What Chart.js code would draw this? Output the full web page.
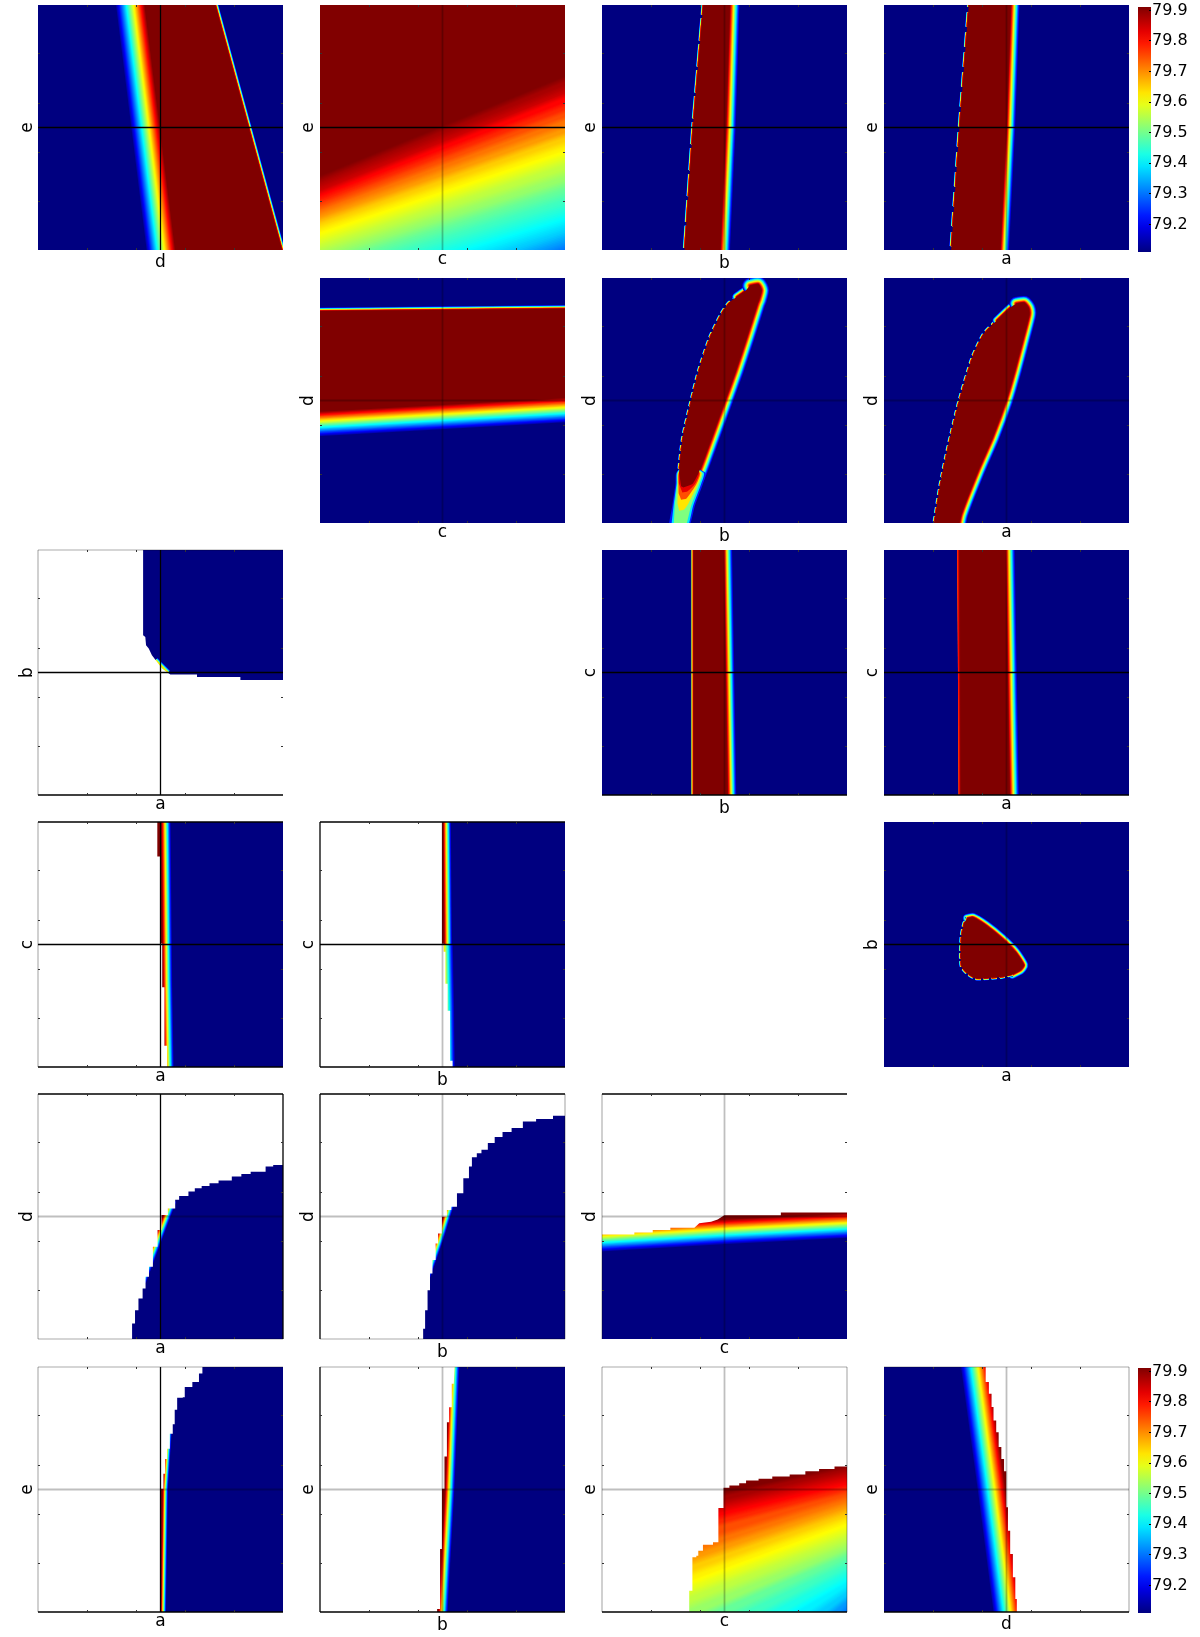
<!DOCTYPE html>
<html>
<head>
<meta charset="utf-8">
<title>Pairwise heat maps</title>
<script src="https://cdn.jsdelivr.net/npm/chart.js@4"></script>
<style>
  html, body { margin: 0; background: #fff; }
  #page { position: relative; width: 1200px; height: 1637px; overflow: hidden; }
  canvas { position: absolute; }
</style>
</head>
<body>
<div id="page"></div>
<script>
// colour bar
const cb_min = 79.11;
const cb_max = 79.911;
const cb_ticks = [79.2, 79.3, 79.4, 79.5, 79.6, 79.7, 79.8, 79.9];
const axis_ticks = [20, 40, 60, 80];

// all boundaries below are [x, y] in percent of each panel's own axis range
// e vs d
const r0c0_left = [[43.2,105],[43.8,100],[56.3,0],[56.9,-5]];
const r0c0_right = [[71,105],[72.4,100],[99.6,0],[101,-5]];
// e vs c: value contours, y at the left and right end
const r0c1_levels = [79.91,79.88,79.85,79.81,79.78,79.75,79.72,79.69,79.65,79.62,79.59,79.56,79.53,79.49,79.46,79.43,79.40,79.37,79.33,79.30];
const r0c1_ends_l = [30,27.5,24,21.8,19.5,17.5,15.5,13,10.5,7.5,4,0.5,-3,-7,-11,-16,-21,-27,-33,-40];
const r0c1_ends_r = [71.4,68,64.5,61,58,55,52,48.5,45,41.5,38,33.5,29,24.5,20,15.5,11.5,7.5,3.5,0.5];
// e vs b
const r0c2_left = [[42,105],[41.3,100],[37.1,50],[33.7,0],[33.3,-5]];
const r0c2_right = [[52.3,105],[52.1,100],[50.5,50],[48.2,0],[48,-5]];
// e vs a
const r0c3_left = [[35,105],[34.6,100],[30.8,50],[27.4,0],[27,-5]];
const r0c3_right = [[51.9,105],[51.7,100],[49.9,50],[47.4,0],[47.1,-5]];
// d vs c
const r1c1_top = [[-5,86.4],[0,86.5],[100,87.5],[105,87.6]];
const r1c1_bottom = [[-5,45.4],[0,45.7],[100,51.3],[105,51.6]];
// d vs b
const r1c2_left = [[32.3,15],[31.5,21.3],[33,34.9],[36.4,49.9],[39.5,62.2],[44.1,75.9],[48.7,85.4],[51.5,89.5],[55,92.3],[58.8,95],[60.5,96.8]];
const r1c2_cap = [[55,92.3],[58.8,95],[60.5,96.8],[63.8,97.4]];
const r1c2_right = [[60.5,96.8],[63.8,97.4],[65,95],[64,91],[63.4,89.5],[59.1,75.9],[54.6,62.2],[50.2,49.9],[44.8,34.9],[39.8,21.3],[37,16],[33.3,14.5]];
const r1c2_tip_levels = [79.23,79.39,79.51,79.63,79.75,79.83];
const r1c2_tips = [
  [[27,-2],[35.2,-2],[37.9,7],[41.2,16],[42.2,20.5],[34,24],[30.3,20.5],[30,16],[28.7,7]],
  [[28.2,-2],[34.7,-2],[37.2,7],[40.5,16],[41.6,20.5],[34,24],[30.6,20.5],[30.4,16],[29.2,7]],
  [[29.2,-2],[33.8,-2],[36.4,7],[39.8,16],[41,20.5],[34,24],[30.9,20.5],[30.7,16],[29.7,7]],
  [[31.5,5],[33.5,5.5],[35.3,8],[39.2,16],[40.5,20.5],[34,24],[31.1,20.5],[31,16],[30.8,8]],
  [[32.3,9.5],[34.5,10],[38.6,16],[40,20.5],[34,24],[31.3,20.5],[31.2,16],[31.3,12]],
  [[32.8,12.5],[35,13],[38,16],[39.6,20.5],[34,24],[31.5,20.5],[31.4,16]]
];
// d vs a
const r1c3_left = [[20,-3],[23,15.8],[26.1,30.8],[30.7,49.9],[36.1,67.7],[40.7,77.2],[46,82.7],[51.5,87.9],[54,89.5]];
const r1c3_cap = [[46,82.7],[51.5,87.9],[54,89.5],[57.3,89.9]];
const r1c3_right = [[54,89.5],[57.3,89.9],[59,87.8],[59.3,85],[57,75.9],[53.4,62.2],[49.8,49.9],[44.3,34.9],[38.4,21.3],[31.5,3.5],[30.2,-3]];
// b vs a
const r2c0_edge = [[48,55],[53,50]];
const r2c0_mask = [[42.9,101],[42.9,65.2],[43.8,64.5],[44.1,61.1],[45.2,59.8],[46.5,57],[48.6,54.3],[50.6,51.6],[54,49.2],[64.9,49.2],[64.9,48.2],[82.6,48.2],[82.6,46.9],[101,46.9],[101,-1],[-1,-1],[-1,101]];
// c vs b
const r2c2_left = [[37.6,105],[37.6,-5]];
const r2c2_right = [[49.4,105],[49.5,100],[51.2,0],[51.3,-5]];
// c vs a
const r2c3_left = [[30.9,105],[31.5,-5]];
const r2c3_right = [[49.4,105],[49.5,100],[51.2,0],[51.3,-5]];
// c vs a, masked
const r3c0_edge = [[50.2,105],[50.9,35],[51.6,-5]];
const r3c0_mask = [[48.7,101],[48.7,85.9],[49.9,85.9],[49.9,50.4],[50.7,50.4],[50.7,32.6],[51.6,32.6],[51.6,8.7],[52.7,8.7],[52.7,-1],[-1,-1],[-1,101]];
// c vs b, masked
const r3c1_edge_top = [[50.1,105],[50.6,50]];
const r3c1_edge_low = [[48.5,50],[49,25],[49.4,-5]];
const r3c1_mask = [[49.8,101],[49.8,50.3],[50.5,50.3],[50.5,47],[51.2,47],[51.2,34],[52.1,34],[52.1,23],[53.1,23],[53.1,2.6],[54.1,2.6],[54.1,-1],[-1,-1],[-1,101]];
// b vs a, closed blob
const r3c3_upper = [[34,60.7],[36.3,61.1],[41.5,58],[48.3,52.5],[53.7,47],[57.1,41.6],[55.8,39.6],[52.4,37.8]];
const r3c3_lower = [[52.4,37.8],[48.3,36.8],[41.5,36.2],[37.4,36.2],[34,38.2],[31.7,40.9],[31.3,45],[31.6,53.2],[32.7,58.7],[34,60.7]];
// d vs a, masked
const r4c0_edge = [[41.2,24],[47.5,41],[53.5,57]];
const r4c0_mask = [[37.6,-1],[37.6,0],[38.4,6.3],[39.6,11.7],[41,16.5],[42.7,20.6],[43.9,25.4],[45.3,29.5],[46.9,37.7],[48.8,44.5],[50.4,50.6],[53,53.3],[56,56.8],[57.6,58.4],[61.4,60.2],[64,61.5],[66.8,62.5],[70,63.6],[73.7,64.7],[79.1,66.3],[83,67.3],[86.8,68.3],[92.9,70.4],[96,71],[100,71.5],[101,71.5],[101,101],[-1,101],[-1,-1]];
// d vs b, masked
const r4c1_edge = [[42.3,26],[47.5,41],[53,59]];
const r4c1_mask = [[41.8,-1],[41.8,0],[42.1,4.2],[42.9,11.7],[43.9,19.9],[44.9,26.7],[45.9,32.2],[47.2,39],[48.2,43.1],[49.8,49.9],[51.8,52.7],[53.6,54],[55.9,59.5],[58.5,65.6],[60.8,70.4],[62,74.2],[64,75.8],[65.9,77.2],[68.5,80],[71.3,82.4],[74.5,84.5],[78.2,86.1],[82.8,88.8],[88.2,89.8],[95.1,91.1],[100,92],[101,92],[101,101],[-1,101],[-1,-1]];
// d vs c, masked
const r4c2_edge = [[-5,45.6],[0,46],[50,49],[100,51.5],[105,51.7]];
const r4c2_mask = [[-1,42.7],[13.2,42.7],[13.2,43.5],[20.7,43.5],[20.7,44.5],[27.9,44.5],[27.9,45.4],[37.7,45.4],[39.7,47.2],[44.5,47.9],[47.2,48.8],[49.9,50.5],[73,50.5],[73,51.6],[101,51.6],[101,101],[-1,101]];
// e vs a, masked
const r5c0_edge = [[49.9,-5],[50,0],[50.8,50],[52.3,73]];
const r5c0_mask = [[50.2,-1],[50.2,50.3],[51.2,56.4],[51.9,62.5],[52.7,66.6],[53.8,72.8],[55,76.6],[55.8,82.6],[56.8,87.5],[59.1,87.7],[59.9,91.8],[63,93.9],[65.7,97.3],[67.1,101],[-1,101],[-1,-1]];
// e vs b, masked
const r5c1_edge = [[48,-5],[48.2,0],[51,50],[53,100],[53.2,105]];
const r5c1_mask = [[47.8,-1],[47.8,1.2],[49,1.2],[49,25.7],[49.8,25.7],[49.8,50.3],[50.8,50.3],[50.8,63.5],[51.8,63.5],[51.8,77.5],[52.7,77.5],[52.7,83.6],[53.8,83.6],[53.8,93.2],[54.6,93.2],[55,101],[-1,101],[-1,-1]];
// e vs c, masked: contours, y at x=30 and x=105
const r5c2_levels = [79.91,79.88,79.85,79.81,79.78,79.75,79.72,79.69,79.65,79.62,79.59,79.56,79.53,79.49,79.46,79.43,79.40,79.37,79.33,79.30,79.27];
const r5c2_ends_l = [44.7,41.3,38.8,35.2,32,27,23,19.5,15,11,7,2,-4,-10,-17,-25,-36,-48,-60,-72,-85];
const r5c2_ends_r = [61.1,59.2,56.7,53.5,51.3,49.5,47,44.5,41.5,38.5,35,31.5,28,25,21.5,18,14.5,11,8,5,2];
const r5c2_mask = [[35.3,-1],[35.3,0],[35.6,8.7],[36.9,22.3],[38.5,23],[39.3,25],[41.2,27.5],[45.3,28.5],[47.5,29.8],[47.5,42.5],[49.6,42.5],[49.6,50.7],[52,51.6],[56,52.6],[58.8,53.7],[63.9,54.4],[69.5,55.3],[76.6,56.1],[83,57.5],[88.6,58.4],[94.9,59.4],[100,59.5],[101,59.5],[101,101],[-1,101],[-1,-1]];
// e vs d, masked
const r5c3_edge = [[42.3,105],[49.8,50],[56.9,-5]];
const r5c3_mask = [[40.7,101],[41.5,93.9],[42.8,89.1],[43.9,83.7],[44.7,78.2],[45.8,73.4],[46.8,67.3],[47.9,62.5],[49,57.5],[49.9,50.7],[49.9,42.8],[50.6,33.2],[51.5,23.7],[52.6,14.2],[53.6,5.3],[54.2,-1],[101,-1],[101,101]];

const colLeft = [38, 320, 602, 884];
const rowTop = [5, 278, 550, 822, 1094, 1367];
const PX_PER_UNIT = 2.45;
const NAVY = 0, DARK = 1;
const BLACK = '#000', GRAY = 'rgba(0,0,0,0.25)';

function jet(t) {
  const f = o => Math.round(255 * Math.min(1, Math.max(0, 1.5 - Math.abs(4 * t - o))));
  return `rgb(${f(3)},${f(2)},${f(1)})`;
}
const levelT = v => (v - cb_min) / (cb_max - cb_min);
const rev = a => a.slice().reverse();
const asPoints = a => a.map(p => ({x: p[0], y: p[1]}));

// lowest level first, so the higher regions paint over the lower ones
function contourList(levels, l, r, x0, x1) {
  return levels.map((v, i) => ({t: levelT(v), l: l[i], r: r[i], x0, x1})).reverse();
}

// edges: [points, ramp width in px, options], spines = top right bottom left, cross = horizontal vertical
const panels = [
  {r:0, c:0, yl:'e', xl:'d', cross:'kk', spines:'nnnn', edges:[[r0c0_left,29],[r0c0_right,3]], core:[...r0c0_left, ...rev(r0c0_right)]},
  {r:0, c:1, yl:'e', xl:'c', cross:'kg', spines:'nnnn', contours:contourList(r0c1_levels, r0c1_ends_l, r0c1_ends_r, -1, 101)},
  {r:0, c:2, yl:'e', xl:'b', cross:'kg', spines:'nnnn', edges:[[r0c2_left,2,{dash:[22,4]}],[r0c2_right,10]], core:[...r0c2_left, ...rev(r0c2_right)]},
  {r:0, c:3, yl:'e', xl:'a', cross:'kg', spines:'nnnn', edges:[[r0c3_left,2,{dash:[14,6]}],[r0c3_right,9]], core:[...r0c3_left, ...rev(r0c3_right)]},
  {r:1, c:1, yl:'d', xl:'c', cross:'gg', spines:'nnnn', edges:[[r1c1_top,3.5],[r1c1_bottom,25]], core:[...r1c1_top, ...rev(r1c1_bottom)]},
  {r:1, c:2, yl:'d', xl:'b', cross:'gg', spines:'nnnn', round:true, edges:[[r1c2_left,2,{dash:[5,4]}],[r1c2_cap,4.5],[r1c2_right,8]], core:[...r1c2_left, ...r1c2_right.slice(1)],
    tips:r1c2_tips.map((pts, i) => ({t: levelT(r1c2_tip_levels[i]), pts}))},
  {r:1, c:3, yl:'d', xl:'a', cross:'gg', spines:'nnnn', round:true, edges:[[r1c3_left,2,{dash:[5,4]}],[r1c3_cap,4],[r1c3_right,7]], core:[...r1c3_left, ...r1c3_right.slice(1)]},
  {r:2, c:0, yl:'b', xl:'a', cross:'kk', spines:'gnkg', edges:[[r2c0_edge,3,{tMax:0.7}]], mask:r2c0_mask},
  {r:2, c:2, yl:'c', xl:'b', cross:'kg', spines:'nnkn', edges:[[r2c2_left,2.5,{tMin:0.55}],[r2c2_right,9]], core:[...r2c2_left, ...rev(r2c2_right)]},
  {r:2, c:3, yl:'c', xl:'a', cross:'kg', spines:'nnkn', edges:[[r2c3_left,2.5,{tMin:0.8}],[r2c3_right,9.5]], core:[...r2c3_left, ...rev(r2c3_right)]},
  {r:3, c:0, yl:'c', xl:'a', cross:'kk', spines:'knkg', edges:[[r3c0_edge,9.5]], core:[...r3c0_edge, [30,-5], [30,105]], mask:r3c0_mask},
  {r:3, c:1, yl:'c', xl:'b', cross:'kg', spines:'knkk', edges:[[r3c1_edge_top,8],[r3c1_edge_low,14]], core:[...r3c1_edge_top, ...r3c1_edge_low, [30,-5], [30,105]], mask:r3c1_mask},
  {r:3, c:3, yl:'b', xl:'a', cross:'kg', spines:'nnnn', round:true, edges:[[r3c3_upper,4.5],[r3c3_lower,2,{dash:[5,3]}]], core:[...r3c3_upper, ...r3c3_lower.slice(1)]},
  {r:4, c:0, yl:'d', xl:'a', cross:'gk', spines:'kkgg', edges:[[r4c0_edge,7.5]], core:[...r4c0_edge, [30,57], [30,24]], mask:r4c0_mask, stepped:true},
  {r:4, c:1, yl:'d', xl:'b', cross:'gg', spines:'kggk', edges:[[r4c1_edge,7]], core:[...r4c1_edge, [30,59], [30,26]], mask:r4c1_mask, stepped:true},
  {r:4, c:2, yl:'d', xl:'c', cross:'gg', spines:'knng', edges:[[r4c2_edge,25]], core:[...r4c2_edge, [105,60], [-5,60]], mask:r4c2_mask},
  {r:5, c:0, yl:'e', xl:'a', cross:'gk', spines:'gnkg', edges:[[r5c0_edge,5.5]], core:[...r5c0_edge, [30,73], [30,-5]], mask:r5c0_mask, stepped:true},
  {r:5, c:1, yl:'e', xl:'b', cross:'gg', spines:'gnkk', edges:[[r5c1_edge,9.5]], core:[...r5c1_edge, [30,105], [30,-5]], mask:r5c1_mask},
  {r:5, c:2, yl:'e', xl:'c', cross:'gg', spines:'ggkg', contours:contourList(r5c2_levels, r5c2_ends_l, r5c2_ends_r, 30, 105), mask:r5c2_mask, stepped:true},
  {r:5, c:3, yl:'e', xl:'d', cross:'gg', spines:'ggkn', edges:[[r5c3_edge,28]], core:[...r5c3_edge, [70,-5], [70,105]], mask:r5c3_mask, stepped:true}
];

const xTitlePad = {a: 5, b: 1, c: 5, d: 2};
const RAMP_STEPS = 30;
const CONTOUR_STEPS = 6;
const TENSION = 0.2;

function polygon(pts, color, extra) {
  return Object.assign({data: asPoints(pts), showLine: true, pointRadius: 0, borderWidth: 0,
    fill: 'shape', backgroundColor: color}, extra);
}

function stroke(pts, color, width, extra) {
  return Object.assign({data: asPoints(pts), showLine: true, pointRadius: 0, fill: false,
    borderColor: color, borderWidth: width}, extra);
}

function contourDatasets(list) {
  const out = [];
  list.forEach((q, i) => {
    const line = [[q.x0, q.l], [q.x1, q.r]];
    if (i > 0) {
      // soft step from the previous level up to this one, just under the contour
      const prev = list[i - 1];
      const slope = (q.r - q.l) / (q.x1 - q.x0);
      const gap = Math.min(q.l - prev.l, q.r - prev.r) * PX_PER_UNIT / Math.sqrt(1 + slope * slope);
      for (let k = 0; k < CONTOUR_STEPS; k++) {
        const t = prev.t + (q.t - prev.t) * (k + 0.5) / CONTOUR_STEPS;
        out.push(stroke(line, jet(t), 2 * gap * (1 - k / CONTOUR_STEPS)));
      }
    }
    out.push(polygon([...line, [q.x1, 110], [q.x0, 110]], jet(q.t)));
  });
  return out;
}

function buildDatasets(p) {
  // listed bottom to top, reversed at the end because Chart.js paints the first one last
  const ds = [];
  ds.push(polygon([[-1,-1],[101,-1],[101,101],[-1,101]], jet(NAVY)));
  for (const [pts, band, opt] of p.edges || []) {
    const tMin = (opt && opt.tMin) || 0.05;
    const tMax = (opt && opt.tMax) || 1;
    const dash = opt && opt.dash;
    for (let i = 0; i < RAMP_STEPS; i++) {
      const t = tMin + (tMax - tMin) * i / (RAMP_STEPS - 1);
      ds.push(stroke(pts, jet(t), 2 * band * (1 - i / RAMP_STEPS), {
        tension: p.round ? TENSION : 0,
        borderCapStyle: p.round && !dash ? 'round' : 'butt',
        borderJoinStyle: 'round',
        borderDash: dash || []
      }));
    }
  }
  if (p.contours) ds.push(...contourDatasets(p.contours));
  for (const q of p.tips || []) ds.push(polygon(q.pts, jet(q.t), {tension: TENSION}));
  if (p.core) ds.push(polygon(p.core, jet(DARK), {tension: p.round ? TENSION : 0}));
  if (p.mask) ds.push(polygon(p.mask, '#fff', {stepped: !!p.stepped}));

  const crossLine = (pts, k) => stroke(pts, k === 'k' ? BLACK : GRAY, k === 'k' ? 1.3 : 1.8);
  ds.push(crossLine([[0,50],[100,50]], p.cross[0]));
  ds.push(crossLine([[50,0],[50,100]], p.cross[1]));
  const sides = [[[0,100],[100,100]], [[100,100],[100,0]], [[100,0],[0,0]], [[0,0],[0,100]]];
  sides.forEach((pts, i) => {
    const k = p.spines[i];
    if (k !== 'n') ds.push(stroke(pts, k === 'k' ? BLACK : 'rgba(0,0,0,0.22)', k === 'k' ? 1.3 : 1.7, {clip: false}));
  });
  return ds.reverse();
}

function axisOpts(id, size, title) {
  const horizontal = id === 'x' || id === 'xTop';
  return {
    type: 'linear', axis: horizontal ? 'x' : 'y',
    position: {x: 'bottom', xTop: 'top', y: 'left', yRight: 'right'}[id],
    min: 0, max: 100,
    ticks: {display: false},
    afterBuildTicks(s) { s.ticks = axis_ticks.map(v => ({value: v})); },
    border: {display: false},
    grid: {drawOnChartArea: false, tickLength: -2, tickWidth: 1, tickColor: '#333', z: 1},
    title: title || {display: false},
    afterFit(s) { if (horizontal) s.height = size; else s.width = size; }
  };
}

function addPanel(p) {
  const left = colLeft[p.c] - 38, top = rowTop[p.r] - 5;
  const cv = document.createElement('canvas');
  cv.width = 292; cv.height = 275;
  cv.style.left = left + 'px';
  cv.style.top = top + 'px';
  document.getElementById('page').appendChild(cv);
  const font = {family: '"DejaVu Sans"', size: 17};
  new Chart(cv, {
    type: 'scatter',
    data: {datasets: buildDatasets(p)},
    options: {
      responsive: false, animation: false, events: [],
      layout: {padding: 0},
      plugins: {legend: {display: false}, tooltip: {enabled: false}},
      scales: {
        x: axisOpts('x', 25, {display: true, text: p.xl, color: '#000', font, padding: {top: 0, bottom: xTitlePad[p.xl]}}),
        y: axisOpts('y', 38, {display: true, text: p.yl, color: '#000', font, padding: {top: p.c === 0 ? 17.5 : 16.5, bottom: 0}}),
        xTop: axisOpts('xTop', 5),
        yRight: axisOpts('yRight', 9)
      }
    }
  });
}

function addColorBar(top) {
  const cv = document.createElement('canvas');
  cv.width = 70; cv.height = 262;
  cv.style.left = '1130px';
  cv.style.top = top + 'px';
  document.getElementById('page').appendChild(cv);
  new Chart(cv, {
    type: 'bar',
    data: {
      labels: [''],
      datasets: [{
        data: [[cb_min, cb_max]],
        barPercentage: 1, categoryPercentage: 1,
        backgroundColor(ctx) {
          const a = ctx.chart.chartArea;
          if (!a) return jet(0.5);
          const g = ctx.chart.ctx.createLinearGradient(0, a.bottom, 0, a.top);
          for (let i = 0; i <= 20; i++) g.addColorStop(i / 20, jet(i / 20));
          return g;
        }
      }]
    },
    options: {
      responsive: false, animation: false, events: [],
      layout: {padding: {left: 8, top: 7, bottom: 10}},
      plugins: {legend: {display: false}, tooltip: {enabled: false}},
      scales: {
        x: {display: false},
        y: {
          position: 'right', min: cb_min, max: cb_max,
          afterBuildTicks(s) { s.ticks = cb_ticks.map(v => ({value: v})); },
          afterFit(s) { s.width = 49; s.paddingTop = 0; s.paddingBottom = 0; },
          border: {display: false},
          grid: {drawOnChartArea: false, tickLength: -2, tickColor: '#000', z: 1},
          ticks: {color: '#000', padding: 3, font: {family: '"DejaVu Sans"', size: 16}, callback: v => v.toFixed(1)}
        }
      }
    }
  });
}

panels.forEach(addPanel);
addColorBar(0);
addColorBar(1361);
</script>
</body>
</html>
